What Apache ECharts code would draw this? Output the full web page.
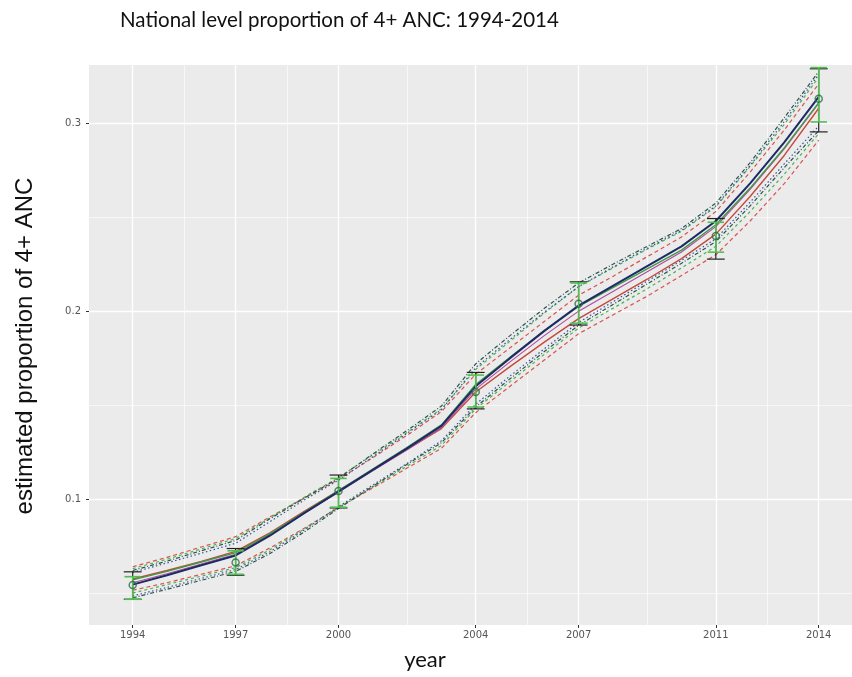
<!DOCTYPE html>
<html><head><meta charset="utf-8">
<script src="https://cdn.jsdelivr.net/npm/echarts@6/dist/echarts.min.js"></script>
<style>html,body{margin:0;padding:0;background:#fff}#c{width:852px;height:677px}</style>
</head><body><div id="c"></div><script>
const years = [1994,1995,1996,1997,1998,1999,2000,2001,2002,2003,2004,2005,2006,2007,2008,2009,2010,2011,2012,2013,2014];
const navySolid = [0.0545,0.0595,0.0648,0.0700,0.0805,0.0925,0.1040,0.1155,0.1270,0.1390,0.1600,0.1750,0.1895,0.2030,0.2135,0.2240,0.2345,0.2480,0.2680,0.2900,0.3140];
const greenSolid = [0.0570,0.0615,0.0665,0.0715,0.0815,0.0930,0.1045,0.1160,0.1275,0.1395,0.1610,0.1755,0.1895,0.2025,0.2125,0.2225,0.2325,0.2460,0.2655,0.2870,0.3110];
const redSolid = [0.0575,0.0620,0.0668,0.0722,0.0820,0.0935,0.1045,0.1155,0.1265,0.1375,0.1570,0.1705,0.1835,0.1960,0.2065,0.2170,0.2280,0.2410,0.2610,0.2830,0.3080];
const magentaSolid = [0.0555,0.0603,0.0655,0.0707,0.0810,0.0925,0.1038,0.1150,0.1262,0.1380,0.1585,0.1730,0.1870,0.2000,0.2105,0.2210,0.2315,0.2450,0.2648,0.2865,0.3105];
const redUpper = [0.0640,0.0690,0.0745,0.0800,0.0905,0.1005,0.1105,0.1220,0.1340,0.1465,0.1665,0.1805,0.1945,0.2085,0.2185,0.2290,0.2395,0.2530,0.2740,0.2965,0.3210];
const greenUpper = [0.0630,0.0680,0.0735,0.0790,0.0900,0.1010,0.1115,0.1235,0.1355,0.1480,0.1690,0.1840,0.1990,0.2130,0.2230,0.2330,0.2425,0.2555,0.2770,0.2995,0.3245];
const tealUpper = [0.0620,0.0670,0.0725,0.0780,0.0895,0.1005,0.1110,0.1240,0.1365,0.1495,0.1720,0.1870,0.2015,0.2150,0.2250,0.2345,0.2440,0.2575,0.2790,0.3030,0.3275];
const blueUpper = [0.0610,0.0660,0.0712,0.0765,0.0880,0.0995,0.1100,0.1225,0.1350,0.1475,0.1700,0.1850,0.1995,0.2130,0.2235,0.2335,0.2430,0.2560,0.2775,0.3010,0.3260];
const blueLower = [0.0485,0.0530,0.0578,0.0625,0.0720,0.0835,0.0960,0.1075,0.1190,0.1310,0.1505,0.1655,0.1800,0.1940,0.2050,0.2160,0.2270,0.2385,0.2580,0.2785,0.2985];
const tealLower = [0.0475,0.0520,0.0568,0.0615,0.0710,0.0825,0.0950,0.1068,0.1185,0.1300,0.1490,0.1640,0.1785,0.1925,0.2035,0.2145,0.2255,0.2370,0.2560,0.2765,0.2960];
const greenLower = [0.0500,0.0545,0.0590,0.0635,0.0730,0.0840,0.0955,0.1065,0.1175,0.1285,0.1480,0.1625,0.1770,0.1910,0.2015,0.2120,0.2230,0.2345,0.2530,0.2730,0.2945];
const redLower = [0.0515,0.0555,0.0600,0.0645,0.0740,0.0845,0.0955,0.1060,0.1165,0.1270,0.1460,0.1600,0.1740,0.1880,0.1980,0.2080,0.2190,0.2300,0.2480,0.2680,0.2910];

const surveyYears = [1994,1997,2000,2004,2007,2011,2014];
const surveyEst  = [0.0543,0.0663,0.1043,0.1570,0.2040,0.2400,0.3130];
const blackLow   = [0.0467,0.0595,0.0953,0.1480,0.1926,0.2277,0.2954];
const blackHigh  = [0.0613,0.0737,0.1128,0.1674,0.2156,0.2493,0.3290];
const greenLow   = [0.0467,0.0600,0.0957,0.1490,0.1936,0.2314,0.3007];
const greenHigh  = [0.0587,0.0725,0.1110,0.1660,0.2150,0.2473,0.3296];

const xTickYears = [1994,1997,2000,2004,2007,2011,2014];
const xMinorGrid = [1995.5,1998.5,2002,2005.5,2009,2012.5];
const yTickValues = [0.1,0.2,0.3];
const yMinorGrid = [0.05,0.15,0.25];

const pair = arr => years.map((y,i)=>[y,arr[i]]);
const diff = (hi,lo) => years.map((y,i)=>[y,hi[i]-lo[i]]);

function lineSeries(arr, color, width, type, z){
  return {type:'line', data:pair(arr), symbol:'none', silent:true, z:z||5,
    lineStyle:{color:color, width:width, type:type||'solid'}};
}
function bandSeries(lo, hi, color, stackId){
  return [
    {type:'line', data:pair(lo), stack:stackId, symbol:'none', silent:true, z:2, lineStyle:{width:0,opacity:0}},
    {type:'line', data:diff(hi,lo), stack:stackId, symbol:'none', silent:true, z:2, lineStyle:{width:0,opacity:0}, areaStyle:{color:color}}
  ];
}
function errBar(low, high, color, width, half, z){
  return {type:'custom', z:z, silent:true,
    data: surveyYears.map((y,i)=>[y, low[i], high[i]]),
    encode:{x:0, y:[1,2]},
    renderItem:function(params, api){
      const x = api.value(0), lo = api.value(1), hi = api.value(2);
      const b = api.coord([x, lo]), t = api.coord([x, hi]);
      const bl = api.coord([x-half, lo]), br = api.coord([x+half, lo]);
      const tl = api.coord([x-half, hi]), tr = api.coord([x+half, hi]);
      const st = {stroke:color, lineWidth:width};
      return {type:'group', children:[
        {type:'line', shape:{x1:b[0],y1:b[1],x2:t[0],y2:t[1]}, style:st},
        {type:'line', shape:{x1:bl[0],y1:bl[1],x2:br[0],y2:br[1]}, style:st},
        {type:'line', shape:{x1:tl[0],y1:tl[1],x2:tr[0],y2:tr[1]}, style:st}
      ]};
    }};
}

const gridLines = {type:'line', data:[], silent:true, z:1,
  markLine:{silent:true, symbol:['none','none'], label:{show:false}, animation:false,
    data: [].concat(
      xMinorGrid.map(v=>({xAxis:v, lineStyle:{color:'#fff', width:0.6, type:'solid'}})),
      yMinorGrid.map(v=>({yAxis:v, lineStyle:{color:'#fff', width:0.6, type:'solid'}})),
      xTickYears.map(v=>({xAxis:v, lineStyle:{color:'#fff', width:1.3, type:'solid'}})),
      yTickValues.map(v=>({yAxis:v, lineStyle:{color:'#fff', width:1.3, type:'solid'}}))
    )}};

const chart = echarts.init(document.getElementById('c'), null, {renderer:'canvas'});
chart.setOption({
  animation:false,
  backgroundColor:'#ffffff',
  grid:{left:89, right:0, top:65, bottom:52, show:true, backgroundColor:'#EBEBEB', borderWidth:0},
  xAxis:{type:'value', min:1992.726, max:2014.97,
    splitLine:{show:false}, axisLine:{show:false},
    axisTick:{show:true, customValues:xTickYears, length:3, lineStyle:{color:'#333', width:1}},
    axisLabel:{customValues:xTickYears, formatter:v=>String(v), color:'#555', fontSize:10, margin:5, fontFamily:'DejaVu Sans'}},
  yAxis:{type:'value', min:0.033, max:0.331,
    splitLine:{show:false}, axisLine:{show:false},
    axisTick:{show:true, customValues:yTickValues, length:3, lineStyle:{color:'#333', width:1}},
    axisLabel:{customValues:yTickValues, formatter:v=>v.toFixed(1), color:'#555', fontSize:10, margin:8, fontFamily:'DejaVu Sans'}},
  graphic:[
    {type:'text', left:120, top:10, style:{text:'National level proportion of 4+ ANC: 1994-2014', font:'20.5px Lato', fill:'#111'}},
    {type:'text', x:25, y:346, rotation:Math.PI/2, style:{text:'estimated proportion of 4+ ANC', font:'24px "Liberation Sans"', fill:'#111', align:'center', verticalAlign:'middle'}},
    {type:'text', x:425, y:660, style:{text:'year', font:'22px Lato', fill:'#111', align:'center', verticalAlign:'middle'}}
  ],
  series:[
    gridLines,
    ...bandSeries(redLower, redUpper, 'rgba(255,150,150,0.12)', 'bandR'),
    ...bandSeries(blueLower, blueUpper, 'rgba(140,140,255,0.12)', 'bandB'),
    lineSeries(redUpper, '#d9534f', 1.2, [4,3]),
    lineSeries(redLower, '#d9534f', 1.2, [4,3]),
    lineSeries(greenUpper, '#4cb352', 1.2, [3,3]),
    lineSeries(greenLower, '#4cb352', 1.2, [3,3]),
    lineSeries(blueUpper, '#34509f', 1.2, [1.5,2.5]),
    lineSeries(blueLower, '#34509f', 1.2, [1.5,2.5]),
    lineSeries(tealUpper, '#2a5646', 1.2, [4,2,1,2]),
    lineSeries(tealLower, '#2a5646', 1.2, [4,2,1,2]),
    lineSeries(redSolid, '#c44a3a', 1.4, 'solid', 6),
    lineSeries(magentaSolid, '#b24a9c', 1.1, 'solid', 6),
    lineSeries(greenSolid, '#3f9a48', 1.4, 'solid', 6),
    lineSeries(navySolid, '#1d2a66', 2, 'solid', 7),
    errBar(blackLow, blackHigh, '#222', 1.2, 0.26, 8),
    errBar(greenLow, greenHigh, '#4fc04f', 1.6, 0.24, 9),
    {type:'scatter', data:surveyYears.map((y,i)=>[y,surveyEst[i]]), symbol:'circle', symbolSize:7, silent:true, z:10,
      itemStyle:{color:'rgba(0,0,0,0)', borderColor:'#2a6a4a', borderWidth:1.5}}
  ]
});
</script></body></html>
